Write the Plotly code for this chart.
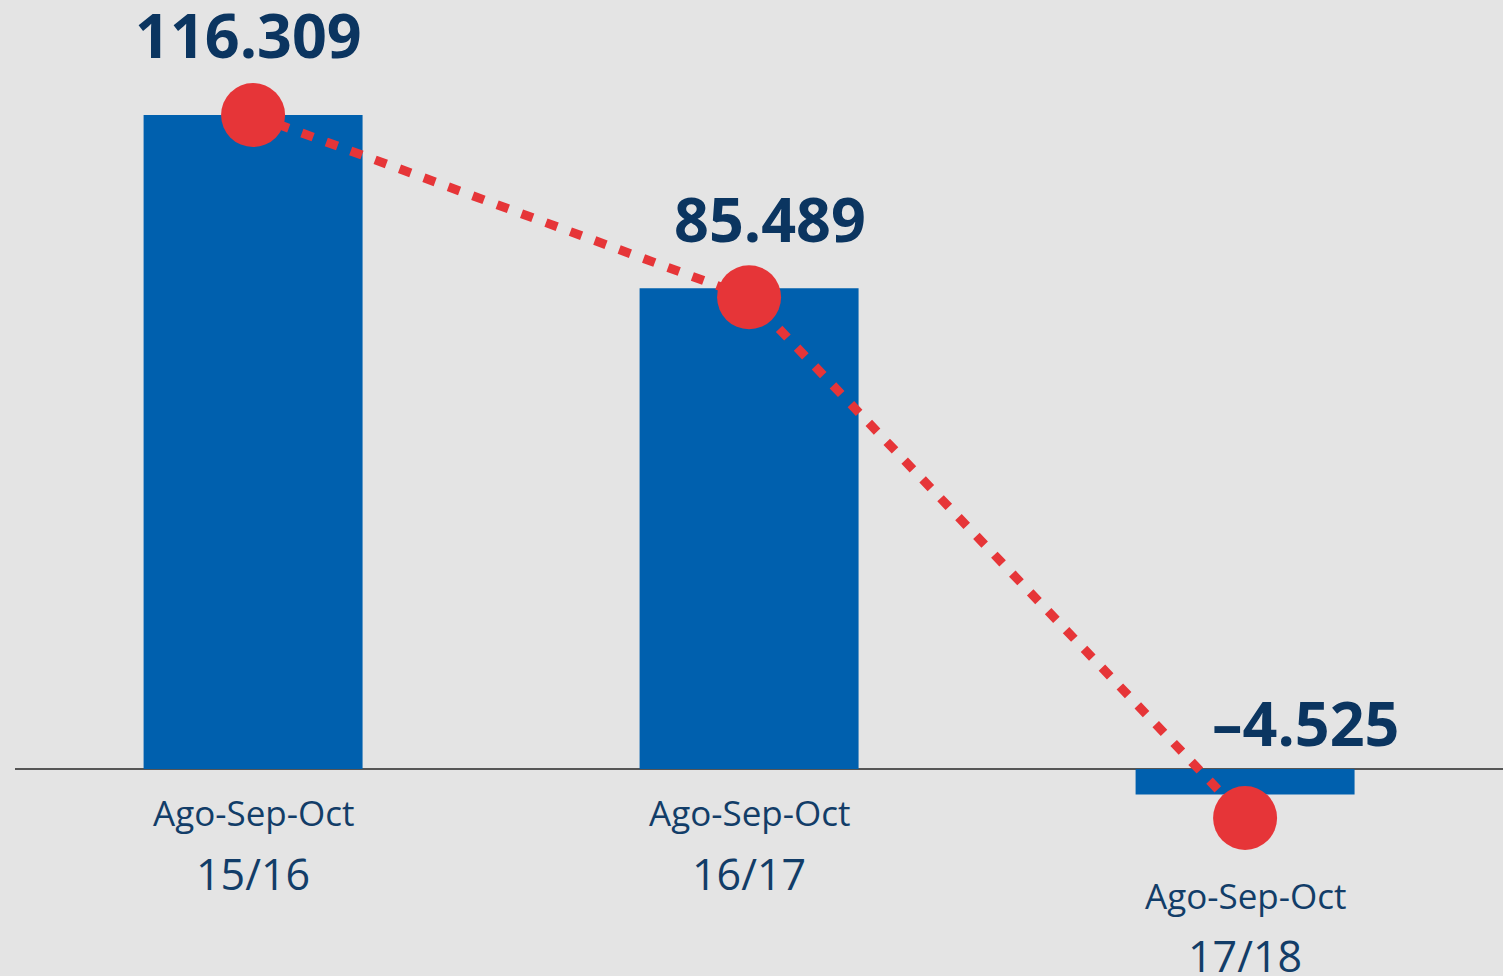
import plotly.graph_objects as go

categories = ["Ago-Sep-Oct<br>15/16", "Ago-Sep-Oct<br>16/17", "Ago-Sep-Oct<br>17/18"]
period_top = ["Ago-Sep-Oct", "Ago-Sep-Oct", "Ago-Sep-Oct"]
period_bottom = ["15/16", "16/17", "17/18"]
bar_values = [116.309, 85.489, -4.525]
bar_labels = ["116.309", "85.489", "–4.525"]
line_values = [116.3, 83.9, -8.7]

BG = "#E4E4E4"
BLUE = "#0060AE"
RED = "#E63538"
NAVY = "#0B3560"
TXT = "#123D68"

x = list(range(len(categories)))

fig = go.Figure()
fig.add_trace(go.Bar(x=x, y=bar_values, width=0.4415, marker=dict(color=BLUE, line=dict(width=0)),
                     hoverinfo="skip"))
fig.add_trace(go.Scatter(x=x, y=line_values, mode="lines+markers",
                         line=dict(color=RED, width=9, dash="12px,14px"),
                         marker=dict(color=RED, size=64, line=dict(width=0)),
                         hoverinfo="skip"))

# value labels
label_offsets = [(-5, 34), (21, 218), (60, 722)]
for i, (txt, (dx, py)) in enumerate(zip(bar_labels, label_offsets)):
    fig.add_annotation(x=x[i], y=1 - py / 976, xref="x", yref="paper", text=f"<b>{txt}</b>",
                       showarrow=False, xshift=dx, font=dict(family="Open Sans", size=61, color=NAVY),
                       xanchor="center", yanchor="middle")

# category labels
cat_pos = [(812, 873), (812, 873), (895, 955)]
for i in range(len(categories)):
    t, b = cat_pos[i]
    fig.add_annotation(x=x[i], y=1 - t / 976, xref="x", yref="paper", text=period_top[i],
                       showarrow=False, font=dict(family="Open Sans", size=35, color=TXT),
                       xanchor="center", yanchor="middle")
    fig.add_annotation(x=x[i], y=1 - b / 976, xref="x", yref="paper", text=period_bottom[i],
                       showarrow=False, font=dict(family="Open Sans", size=43, color=TXT),
                       xanchor="center", yanchor="middle")

fig.update_layout(
    width=1503, height=976,
    margin=dict(l=15, r=0, t=0, b=0),
    paper_bgcolor=BG, plot_bgcolor=BG,
    showlegend=False,
    xaxis=dict(range=[-0.48, 2.52], showgrid=False, zeroline=False, showticklabels=False,
               showline=False, fixedrange=True),
    yaxis=dict(range=[-36.8, 136.76], showgrid=False, zeroline=True, zerolinecolor="#555555",
               zerolinewidth=1.5, showticklabels=False, showline=False, fixedrange=True),
)

fig.write_html("out.html", config={"displayModeBar": False},
               post_script="document.body.style.margin='0px';document.body.style.background='#E4E4E4';")
